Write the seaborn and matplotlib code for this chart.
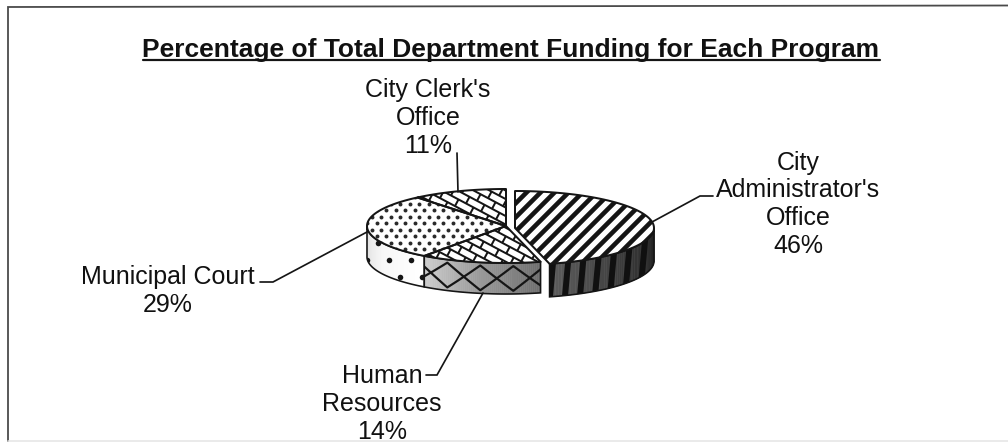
import numpy as np
import seaborn as sns
import matplotlib
matplotlib.use("Agg")
import matplotlib.pyplot as plt
from matplotlib.collections import LineCollection
from matplotlib.patches import Polygon

# Programme shares of the department budget, clockwise from twelve o'clock
shares = [46, 14, 29, 11]
label_text = ["City\nAdministrator's\nOffice", "Human\nResources", "Municipal Court", "City Clerk's\nOffice"]
title_text = "Percentage of Total Department Funding for Each Program"

sns.set_theme(style="white")
plt.rcParams["font.family"] = ["Liberation Sans", "DejaVu Sans"]

fig = plt.figure(figsize=(10.08, 4.44), dpi=100)
ax = fig.add_axes([0, 0, 1, 1])
ax.set_xlim(0, 1008)
ax.set_ylim(444, 0)
ax.axis("off")
PX = 0.72  # points per pixel

INK = "#151515"
RX, RY = 139, 37
CENTRES = [(515, 228), (506, 226), (506, 226), (506, 226)]
DEPTHS = [33, 31, 31, 31]


def rim(c, t, rx=RX, ry=RY):
    t = np.radians(t)
    return np.column_stack([c[0] + rx * np.sin(t), c[1] - ry * np.cos(t)])


def clipped_segments(segs, clip, lw, color=INK):
    lc = LineCollection(segs, colors=color, linewidths=lw * PX, capstyle="butt", zorder=clip.get_zorder() + 0.1)
    ax.add_collection(lc)
    lc.set_clip_path(clip)


def stripes(clip, box, spacing, lw, color=INK):
    x0, x1, y0, y1 = box
    segs = [[(c, y1 + 5), (c + (y1 - y0) + 10, y0 - 5)]
            for c in np.arange(x0 - (y1 - y0) - 20, x1 + 20, spacing)]
    clipped_segments(segs, clip, lw, color)


def bricks(clip, box, row=7.5, run=17, angle=28, lw=2.0):
    x0, x1, y0, y1 = box
    a = np.radians(angle)
    u = np.array([np.cos(a), np.sin(a)])
    v = np.array([-np.sin(a), np.cos(a)])
    o = np.array([(x0 + x1) / 2, (y0 + y1) / 2])
    span = (x1 - x0 + y1 - y0)
    segs = []
    for i, r in enumerate(np.arange(-span, span, row)):
        segs.append([o + r * v - span * u, o + r * v + span * u])
        shift = (i % 2) * run / 2
        for s in np.arange(-span, span, run):
            p = o + r * v + (s + shift) * u
            segs.append([p, p + row * v])
    clipped_segments(segs, clip, lw)


def dots(clip, box, step, size, color):
    x0, x1, y0, y1 = box
    xs, ys = [], []
    for i, y in enumerate(np.arange(y0, y1, step[1])):
        for x in np.arange(x0 + (i % 2) * step[0] / 2, x1, step[0]):
            xs.append(x)
            ys.append(y)
    pts = ax.scatter(xs, ys, s=size, color=color, linewidths=0, zorder=clip.get_zorder() + 0.1)
    pts.set_clip_path(clip)


edges = np.concatenate([[0], np.cumsum(shares)]) * 3.6

# Side walls, only where the disc faces the viewer; each ramp runs clockwise
wall_ramps = {0: ["#1e1e1e", "#3a3a3a", "#5c5c5c"],
              1: ["#6f6f6f", "#9a9a9a", "#cdcdcd"],
              2: ["#ffffff", "#f7f7f7", "#dedede"]}
for k in [2, 1, 0]:
    c, d = CENTRES[k], DEPTHS[k]
    lo, hi = max(edges[k], 90), min(edges[k + 1], 270)
    t = np.linspace(lo, hi, 60)
    top = rim(c, t)
    wall = np.vstack([top, (top + [0, d])[::-1]])
    clip = Polygon(wall, closed=True, fc="white", ec="none", zorder=2 + (k == 1))
    ax.add_patch(clip)
    shade = sns.blend_palette(wall_ramps[k], len(t) - 1)
    for i in range(len(t) - 1):
        q = np.vstack([top[i:i + 2], (top[i:i + 2] + [0, d])[::-1]])
        ax.fill(q[:, 0], q[:, 1], color=shade[i], lw=0.4, zorder=clip.get_zorder() + 0.05)
    box = (wall[:, 0].min(), wall[:, 0].max(), wall[:, 1].min(), wall[:, 1].max())
    if k == 0:
        xs = np.arange(box[0] - 30, box[1] + 10, 15)
        segs = [[(x, box[3] + 4), (x + 7, box[2] - 4)] for x in xs]
        clipped_segments(segs, clip, 6, "#101010")
    elif k == 1:
        x = np.linspace(box[0], box[1], 400)
        base = c[1] + RY * np.sqrt(np.clip(1 - ((x - c[0]) / RX) ** 2, 0, 1))
        tri = 2 * np.abs(((x - box[0] + 10) / 66) % 1 - 0.5)
        for y_off in (0.1 + 0.8 * tri, 0.9 - 0.8 * tri):
            ax.plot(x, base + d * y_off, color=INK, lw=2.2 * PX, zorder=clip.get_zorder() + 0.1,
                    clip_path=clip)
    else:
        dots(clip, box, (22, 17), 16, INK)
    ax.add_patch(Polygon(wall, closed=True, fc="none", ec=INK, lw=1.6 * PX, zorder=clip.get_zorder() + 0.2))

# Top faces of the slices with their fill patterns
for k in range(4):
    c = CENTRES[k]
    arc = rim(c, np.linspace(edges[k], edges[k + 1], 80))
    shape = np.vstack([[c], arc])
    clip = Polygon(shape, closed=True, fc="white", ec="none", zorder=5)
    ax.add_patch(clip)
    box = (shape[:, 0].min(), shape[:, 0].max(), shape[:, 1].min(), shape[:, 1].max())
    if k == 0:
        stripes(clip, box, 14, 4.6)
    elif k == 2:
        dots(clip, box, (9.5, 6.5), 8, "#2a2a2a")
    else:
        bricks(clip, box)
    ax.add_patch(Polygon(shape, closed=True, fc="none", ec=INK, lw=2.0 * PX, zorder=6, joinstyle="round"))

# Leader lines from each label to its slice
leader_x = [[652, 700, 713], [483, 437, 426], [367, 273, 260], [458, 457]]
leader_y = [[222, 196, 196], [293, 375, 375], [232, 282, 282], [192, 153]]
for lx, ly in zip(leader_x, leader_y):
    ax.plot(lx, ly, color=INK, lw=1.7 * PX, solid_joinstyle="miter", zorder=7)

# Slice labels: name on the upper lines, share on the last one
label_x = [798, 382, 168, 428]
label_y = [253, 439, 312, 153]
for name, share, x, y in zip(label_text, shares, label_x, label_y):
    ax.text(x, y, f"{name}\n{share}%", ha="center", va="baseline", ma="center",
            fontsize=18, color="#111111", linespacing=1.2, zorder=8)

# Title with its rule
ax.text(511, 56.5, title_text, ha="center", va="baseline", fontsize=19,
        fontweight="bold", color="#111111")
ax.plot([143, 880], [60.5, 60.5], color=INK, lw=2.2 * PX)

# Report frame: heavy on top and left, faint along the bottom
ax.plot([8, 8, 1008], [441, 7, 5.5], color="#4a4a4a", lw=1.8 * PX, solid_joinstyle="miter")
ax.plot([8, 1008], [441, 441], color="#e4e4e4", lw=1.5 * PX)

fig.savefig("out.png", dpi=100, facecolor="white")
